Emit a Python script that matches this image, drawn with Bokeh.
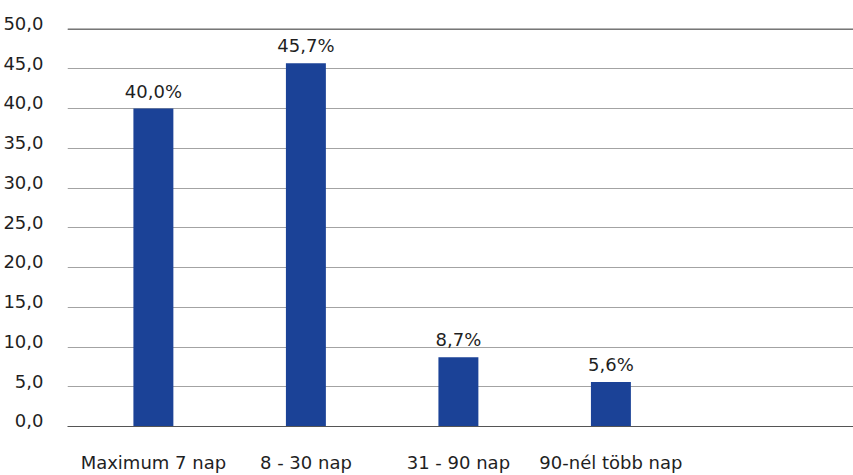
from bokeh.plotting import figure
from bokeh.models import ColumnDataSource, Range1d, FixedTicker, LabelSet, Span, LinearAxis
from bokeh.core.properties import value
from bokeh.embed import file_html
from bokeh.resources import INLINE

categories = ["Maximum 7 nap", "8 - 30 nap", "31 - 90 nap", "90-nél több nap"]
values = [40.0, 45.7, 8.7, 5.6]
value_labels = ["40,0%", "45,7%", "8,7%", "5,6%"]
y_ticks = [0, 5, 10, 15, 20, 25, 30, 35, 40, 45, 50]
y_tick_labels = ["0,0", "5,0", "10,0", "15,0", "20,0", "25,0", "30,0", "35,0", "40,0", "45,0", "50,0"]

FONT = "DejaVu Sans"
TEXT = "#1f1f1f"
BAR = "#1B4297"

W, H = 853, 475
LEFT, BOTTOM = 66, 49
Y_MAX = 50
LIFT = 0.7          # tick labels sit slightly above their gridlines
TOP = 23

xs = list(range(len(categories)))
src = ColumnDataSource(dict(x=xs, top=values, lab=value_labels))

unit = 152.7
x0 = -(152.0 - LEFT) / unit
x1 = x0 + (W - LEFT) / unit

p = figure(width=W, height=H, output_backend="svg", toolbar_location=None,
           x_range=Range1d(x0, x1), y_range=Range1d(0, Y_MAX + LIFT),
           min_border_left=LEFT, min_border_right=0, min_border_top=TOP, min_border_bottom=BOTTOM)
p.outline_line_color = None
p.background_fill_color = "white"
p.border_fill_color = "white"

p.vbar(x="x", top="top", bottom=0, width=0.262, source=src, color=BAR, line_color=None)

labels = LabelSet(x="x", y="top", text="lab", source=src, text_align="center",
                  text_baseline="bottom", y_offset=7, text_font=value(FONT),
                  text_font_size="18px", text_color=TEXT)
p.add_layout(labels)

p.xgrid.visible = False
p.ygrid.ticker = FixedTicker(ticks=y_ticks)
p.ygrid.grid_line_color = "#a3a3a3"
p.ygrid.grid_line_width = 1

p.add_layout(Span(location=y_ticks[-1], dimension="width", line_color="#555555", line_width=1))

p.yaxis.visible = False

p.extra_y_ranges = {"lab": Range1d(-LIFT, Y_MAX)}
yax = LinearAxis(y_range_name="lab", ticker=FixedTicker(ticks=y_ticks))
yax.major_label_overrides = {t: l for t, l in zip(y_ticks, y_tick_labels)}
yax.axis_line_color = None
yax.major_tick_line_color = None
yax.minor_tick_line_color = None
yax.major_label_standoff = 18
yax.major_label_text_font = FONT
yax.major_label_text_font_size = "18px"
yax.major_label_text_color = TEXT
p.add_layout(yax, "left")

p.xaxis.ticker = FixedTicker(ticks=xs)
p.xaxis.major_label_overrides = {i: c for i, c in zip(xs, categories)}
p.xaxis.axis_line_color = "#555555"
p.xaxis.major_tick_line_color = None
p.xaxis.minor_tick_line_color = None
p.xaxis.major_label_standoff = 19
p.xaxis.major_label_text_font = FONT
p.xaxis.major_label_text_font_size = "18px"
p.xaxis.major_label_text_color = TEXT

open("out.html", "w").write(file_html(p, INLINE))
